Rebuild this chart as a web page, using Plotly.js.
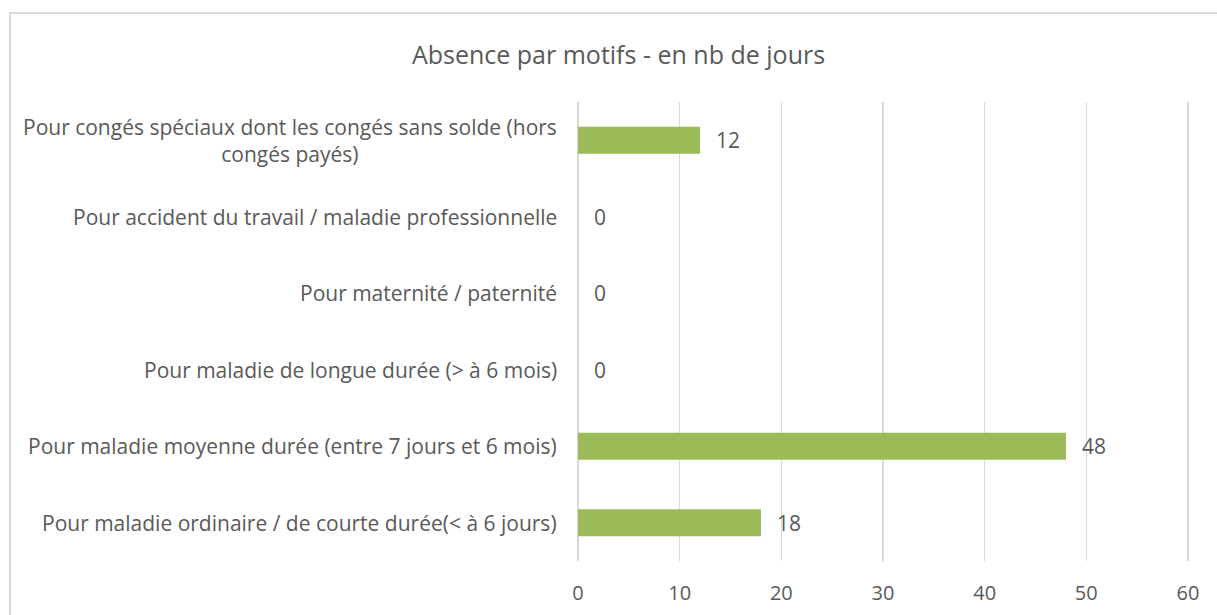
<!DOCTYPE html>
<html>
<head>
<meta charset="utf-8">
<script src="https://cdn.plot.ly/plotly-3.0.1.min.js"></script>
<style>
html,body{margin:0;padding:0;overflow:hidden;background:#fff;width:1217px;height:615px;}
#frame{position:absolute;left:9px;top:12px;width:1300px;height:700px;border:2px solid #d9d9d9;box-sizing:border-box;}
#chart{position:absolute;left:0;top:0;width:1217px;height:615px;}
</style>
</head>
<body>
<div id="frame"></div>
<div id="chart"></div>
<script>
const categories = [
  "Pour maladie ordinaire / de courte durée(< à 6 jours)",
  "Pour maladie moyenne durée (entre 7 jours et 6 mois)",
  "Pour maladie de longue durée (> à 6 mois)",
  "Pour maternité / paternité",
  "Pour accident du travail / maladie professionnelle",
  "Pour congés spéciaux dont les congés sans solde (hors<br>congés payés)"
];
const values = [18, 48, 0, 0, 0, 12];
const tickVals = [0, 10, 20, 30, 40, 50, 60];
const titleText = "Absence par motifs - en nb de jours";

const FONT = "'Open Sans', sans-serif";
const COLOR = "#595959";

const annotations = [];
categories.forEach((c, i) => {
  annotations.push({
    x: 0, xref: 'paper', y: i, yref: 'y',
    text: c, showarrow: false, xanchor: 'right', yanchor: 'middle',
    align: 'center', xshift: -19,
    font: {family: FONT, size: 21, color: COLOR}
  });
  annotations.push({
    x: values[i], xref: 'x', y: i, yref: 'y',
    text: String(values[i]), showarrow: false, xanchor: 'left', yanchor: 'middle',
    xshift: 14,
    font: {family: FONT, size: 21, color: COLOR}
  });
});

const trace = {
  type: 'bar', orientation: 'h',
  x: values, y: categories.map((c, i) => i),
  marker: {color: '#9bbb59'},
  hoverinfo: 'x'
};

const layout = {
  width: 1217, height: 615,
  margin: {l: 578, r: 27, t: 102, b: 54},
  paper_bgcolor: 'rgba(0,0,0,0)', plot_bgcolor: 'rgba(0,0,0,0)',
  bargap: 0.65,
  showlegend: false,
  title: {
    text: titleText, xref: 'container', x: 618.5/1217, xanchor: 'center',
    yref: 'container', y: 1 - 55/615, yanchor: 'middle',
    font: {family: FONT, size: 25, color: COLOR}
  },
  xaxis: {
    range: [0, 60.2], tickvals: tickVals, ticktext: tickVals.map(String),
    showgrid: true, gridcolor: '#d9d9d9', gridwidth: 1.5,
    zeroline: true, zerolinecolor: '#d9d9d9', zerolinewidth: 1.5,
    showline: false,
    ticks: 'outside', ticklen: 14, tickcolor: 'rgba(0,0,0,0)',
    tickfont: {family: FONT, size: 20, color: COLOR},
    fixedrange: true
  },
  yaxis: {
    range: [-0.5, 5.5], showticklabels: false, showgrid: false,
    zeroline: false, showline: false, fixedrange: true
  },
  annotations: annotations
};

Plotly.newPlot('chart', [trace], layout, {displayModeBar: false, staticPlot: true});
</script>
</body>
</html>
